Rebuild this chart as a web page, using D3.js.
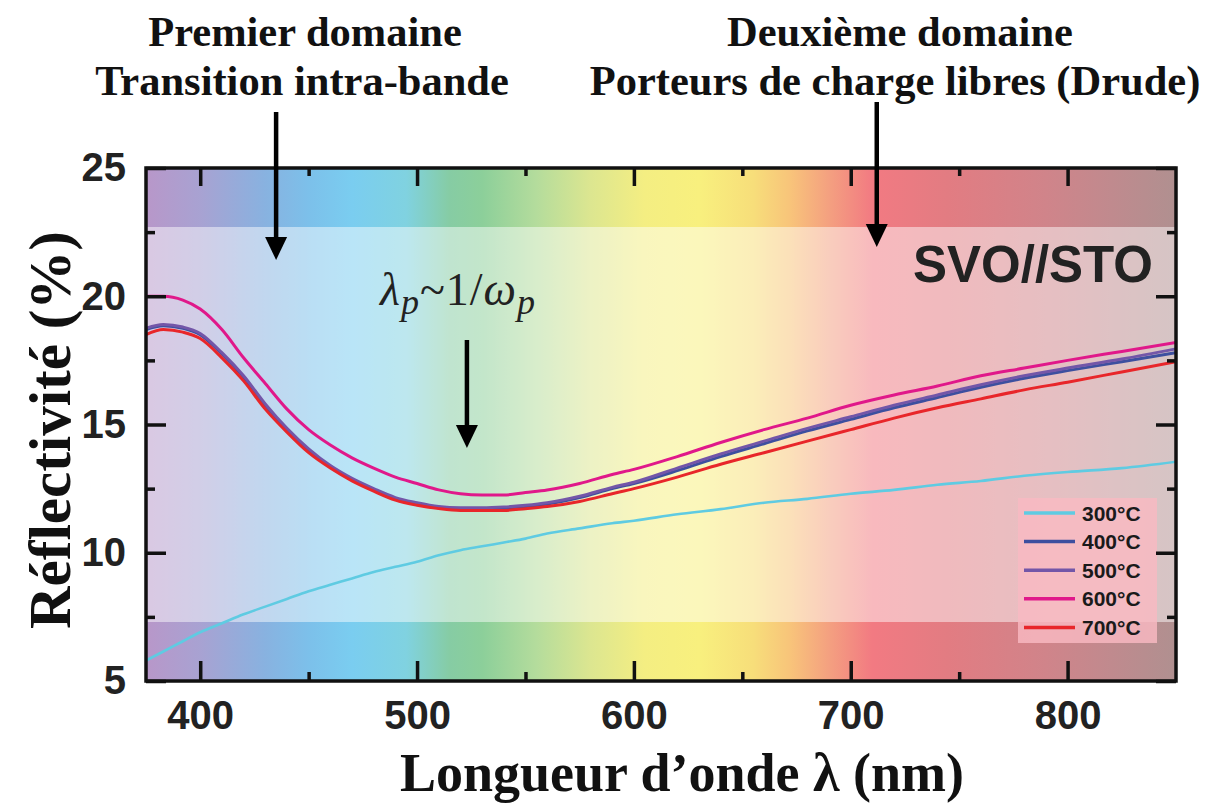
<!DOCTYPE html>
<html><head><meta charset="utf-8">
<script src="https://cdn.jsdelivr.net/npm/d3@7"></script>
<style>body{margin:0;background:#fff;} svg{display:block}</style>
</head><body><svg id="c" width="1220" height="805"></svg>
<script>
// ---------- data ----------
const wavelengths = [375,383,392,400,410,420,430,440,450,460,470,480,490,500,510,520,530,540,550,560,575,590,600,620,640,660,680,700,720,740,760,780,800,825,850];
const r300 = [5.8,6.15,6.55,6.9,7.25,7.6,7.9,8.2,8.5,8.75,9.0,9.25,9.45,9.65,9.9,10.1,10.25,10.4,10.55,10.75,10.95,11.15,11.25,11.5,11.7,11.95,12.1,12.3,12.45,12.65,12.8,13.0,13.15,13.3,13.55];
const r400 = [18.7,18.85,18.75,18.5,17.75,16.85,15.75,14.8,14.0,13.35,12.85,12.45,12.1,11.9,11.75,11.7,11.7,11.72,11.8,11.9,12.15,12.5,12.7,13.2,13.75,14.25,14.75,15.2,15.65,16.05,16.45,16.8,17.1,17.45,17.8];
const r500 = [18.75,18.9,18.8,18.55,17.8,16.9,15.8,14.85,14.05,13.4,12.9,12.5,12.15,11.95,11.8,11.75,11.75,11.78,11.85,11.95,12.2,12.55,12.75,13.3,13.85,14.35,14.85,15.3,15.75,16.15,16.55,16.9,17.2,17.55,17.95];
const r600 = [20.0,20.0,19.85,19.5,18.7,17.6,16.6,15.6,14.8,14.2,13.7,13.3,12.95,12.7,12.45,12.3,12.25,12.25,12.35,12.45,12.7,13.05,13.25,13.75,14.3,14.8,15.25,15.75,16.15,16.5,16.9,17.2,17.5,17.85,18.2];
const r700 = [18.5,18.7,18.6,18.35,17.6,16.7,15.6,14.7,13.9,13.3,12.8,12.4,12.05,11.85,11.72,11.65,11.65,11.65,11.72,11.8,12.0,12.3,12.5,12.95,13.45,13.9,14.35,14.8,15.25,15.65,16.0,16.35,16.65,17.05,17.45];
const seriesNames = ["300°C","400°C","500°C","600°C","700°C"];
const seriesValues = [r300, r400, r500, r600, r700];
const seriesColors = ["#5fcbe2","#3d4f9f","#7356a8","#e0188a","#e8262a"];

const xTicks = [400,500,600,700,800];
const xMinor = [450,550,650,750];
const yTicks = [5,10,15,20,25];
const yMinor = [7.5,12.5,17.5,22.5];

// background spectrum (wavelength -> colour)
const specLambda = [375,400,430,450,470,495,515,530,555,580,605,630,655,672,690,710,745,790,820,850];
const specColor = ["#b897c9","#a8a2d2","#88b2e0","#7cc0ea","#7acdf0","#80d2e0","#86cca4","#8ccf9a","#b4dc9c","#dce690","#f4ee82","#f8f07e","#f7de7a","#f8c47a","#f4a080","#f27a82","#e27c82","#d0848a","#c08a8e","#b09090"];
const paleBand = [7.3, 22.7];

// ---------- chart ----------
const svg = d3.select("#c");
const x = d3.scaleLinear().domain([375, 850]).range([146, 1176]);
const y = d3.scaleLinear().domain([5, 25]).range([681, 168]);
const [X0, X1] = x.range(); const [Y0, Y1] = y.range();

const defs = svg.append("defs");
const grad = defs.append("linearGradient").attr("id","spec")
  .attr("gradientUnits","userSpaceOnUse")
  .attr("x1", X0).attr("x2", X1).attr("y1",0).attr("y2",0);
specLambda.forEach((l,i)=>grad.append("stop")
  .attr("offset", (x(l)-X0)/(X1-X0)).attr("stop-color", specColor[i]));
defs.append("clipPath").attr("id","clip").append("rect")
  .attr("x",X0).attr("y",Y1).attr("width",X1-X0).attr("height",Y0-Y1);

svg.append("rect").attr("x",X0).attr("y",Y1).attr("width",X1-X0).attr("height",Y0-Y1)
  .attr("fill","url(#spec)");
svg.append("rect").attr("x",X0).attr("y",y(paleBand[1])).attr("width",X1-X0)
  .attr("height",y(paleBand[0])-y(paleBand[1])).attr("fill","#fff").attr("opacity",0.48);

// lines
const line = d3.line().x((d,i)=>x(wavelengths[i])).y(d=>y(d)).curve(d3.curveMonotoneX);
const lg = svg.append("g").attr("clip-path","url(#clip)");
seriesValues.forEach((vals,i)=>{
  lg.append("path").attr("d", line(vals)).attr("fill","none")
    .attr("stroke", seriesColors[i]).attr("stroke-width", i===0?2.6:3);
});

// legend
const leg = svg.append("g");
leg.append("rect").attr("x",1018).attr("y",498).attr("width",139).attr("height",145)
  .attr("fill","#f9bac2").attr("opacity",0.82);
seriesNames.forEach((n,i)=>{
  const yy = 513 + i*28.6;
  leg.append("line").attr("x1",1024).attr("x2",1075).attr("y1",yy).attr("y2",yy)
    .attr("stroke",seriesColors[i]).attr("stroke-width",3.5);
  leg.append("text").attr("x",1082).attr("y",yy).attr("dy","0.36em")
    .attr("font-family","'Liberation Sans', Arial, sans-serif").attr("font-weight","bold")
    .attr("font-size",21).attr("fill","#1a1a1a").text(n);
});

// axes
const tickFont = g => g.selectAll("text").attr("font-family","'Liberation Sans', Arial, sans-serif")
  .attr("font-weight","bold").attr("font-size",40).attr("fill","#222");
const clean = g => { g.select(".domain").remove(); g.selectAll("line").attr("stroke","#111").attr("stroke-width",3.5); };

svg.append("g").attr("transform",`translate(0,${Y0})`)
  .call(d3.axisBottom(x).tickValues(xTicks).tickSize(-20).tickPadding(20).tickFormat(d3.format("d")))
  .call(clean).call(tickFont);
svg.append("g").attr("transform",`translate(0,${Y0})`)
  .call(d3.axisBottom(x).tickValues(xMinor).tickSize(-9).tickFormat("")).call(clean);
svg.append("g").attr("transform",`translate(0,${Y1})`)
  .call(d3.axisTop(x).tickValues(xTicks).tickSize(-18).tickFormat("")).call(clean);
svg.append("g").attr("transform",`translate(0,${Y1})`)
  .call(d3.axisTop(x).tickValues(xMinor).tickSize(-8).tickFormat("")).call(clean);
svg.append("g").attr("transform",`translate(${X0},0)`)
  .call(d3.axisLeft(y).tickValues(yTicks).tickSize(-20).tickPadding(20).tickFormat(d3.format("d")))
  .call(clean).call(tickFont);
svg.append("g").attr("transform",`translate(${X0},0)`)
  .call(d3.axisLeft(y).tickValues(yMinor).tickSize(-9).tickFormat("")).call(clean);
svg.append("g").attr("transform",`translate(${X1},0)`)
  .call(d3.axisRight(y).tickValues(yTicks).tickSize(-20).tickFormat("")).call(clean);
svg.append("g").attr("transform",`translate(${X1},0)`)
  .call(d3.axisRight(y).tickValues(yMinor).tickSize(-9).tickFormat("")).call(clean);

svg.append("rect").attr("x",X0).attr("y",Y1).attr("width",X1-X0).attr("height",Y0-Y1)
  .attr("fill","none").attr("stroke","#111").attr("stroke-width",3.5);

// axis titles
const serif = "'Liberation Serif', 'Times New Roman', serif";
svg.append("text").attr("x",682).attr("y",791).attr("text-anchor","middle")
  .attr("font-family",serif).attr("font-weight","bold").attr("font-size",54).attr("fill","#111")
  .text("Longueur d’onde λ (nm)");
svg.append("text").attr("transform","translate(70,430) rotate(-90)").attr("text-anchor","middle")
  .attr("font-family",serif).attr("font-weight","bold").attr("font-size",59).attr("fill","#111")
  .text("Réflectivité (%)");

// headers
const headers = [
  {t:"Premier domaine", cx:305, by:46},
  {t:"Transition intra-bande", cx:302, by:95},
  {t:"Deuxième domaine", cx:900, by:46},
  {t:"Porteurs de charge libres (Drude)", cx:895, by:95}
];
headers.forEach(h=>svg.append("text").attr("x",h.cx).attr("y",h.by).attr("text-anchor","middle")
  .attr("font-family",serif).attr("font-weight","bold").attr("font-size",42.5).attr("fill","#111").text(h.t));

// arrows
function arrow(xp, y1, y2){
  svg.append("line").attr("x1",xp).attr("x2",xp).attr("y1",y1).attr("y2",y2-18)
    .attr("stroke","#000").attr("stroke-width",4.5);
  svg.append("path").attr("d",`M${xp-11},${y2-23} L${xp+11},${y2-23} L${xp},${y2} Z`).attr("fill","#000");
}
arrow(x(435), 112, 260);
arrow(x(712), 102, 247);
arrow(x(523), 340, 448);

// annotation
const ann = svg.append("text").attr("x",380).attr("y",305)
  .attr("font-family",serif).attr("font-size",46).attr("fill","#222").attr("letter-spacing",1);
ann.append("tspan").attr("font-style","italic").text("λ");
ann.append("tspan").attr("font-style","italic").attr("font-size",36).attr("dy",9).text("p");
ann.append("tspan").attr("dy",-9).text("~1/");
ann.append("tspan").attr("font-style","italic").text("ω");
ann.append("tspan").attr("font-style","italic").attr("font-size",36).attr("dy",9).text("p");

svg.append("text").attr("x",1153).attr("y",282).attr("text-anchor","end")
  .attr("font-family","'Liberation Sans', Arial, sans-serif").attr("font-weight","bold")
  .attr("font-size",51).attr("fill","#222").text("SVO//STO");
</script></body></html>
